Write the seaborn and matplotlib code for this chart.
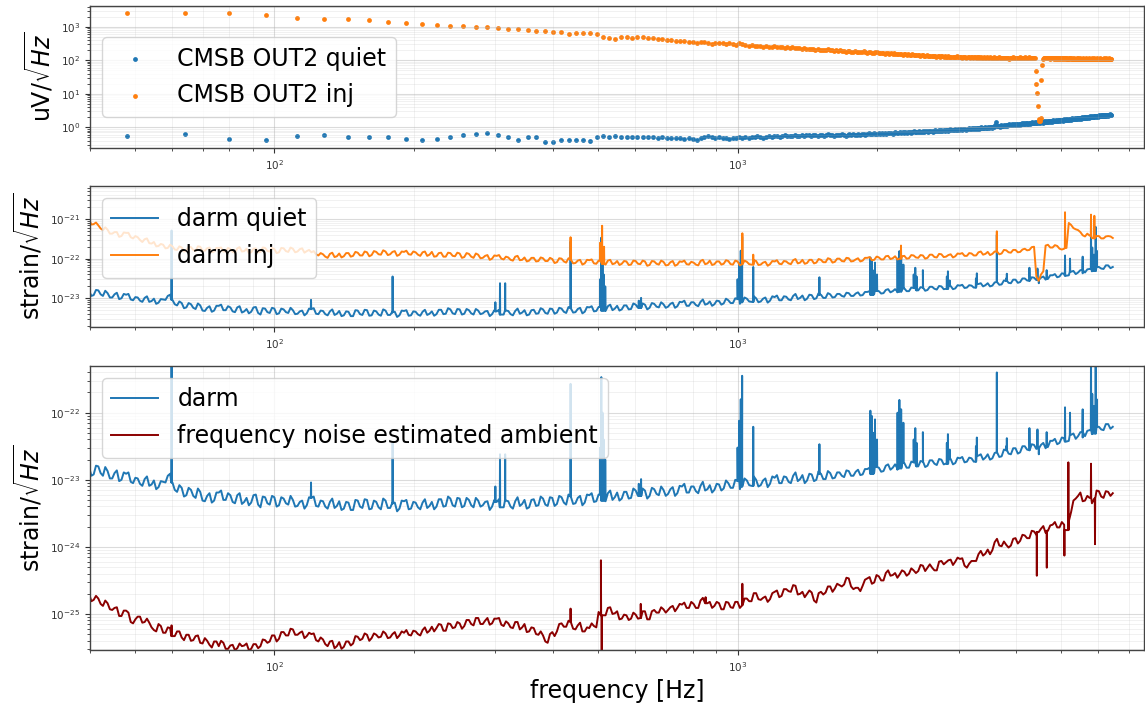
import numpy as np
import pandas as pd
import matplotlib
matplotlib.use("Agg")
import matplotlib.pyplot as plt
import seaborn as sns

# ---------------- data ----------------
# Top panel: CMSB OUT2 spectra, 16 Hz bins starting at 48 Hz, log10(uV/rtHz)*100
cmsb_f0 = 48
cmsb_df = 16
cmsb_quiet = [
    -26, -20, -34, -38, -27, -24, -30, -30, -30, -34,
    -38, -34, -28, -23, -20, -18, -23, -30, -38, -28,
    -30, -43, -45, -38, -38, -38, -38, -41, -28, -26,
    -28, -26, -28, -28, -30, -28, -28, -30, -29, -31,
    -30, -32, -31, -33, -32, -34, -33, -36, -38, -33,
    -28, -26, -29, -31, -30, -33, -32, -35, -31, -33,
    -30, -33, -29, -31, -28, -30, -27, -29, -31, -28,
    -26, -29, -27, -25, -28, -26, -24, -27, -25, -26,
    -24, -27, -25, -23, -26, -24, -22, -25, -23, -24,
    -25, -22, -24, -26, -23, -21, -24, -22, -25, -23,
    -22, -24, -21, -23, -25, -22, -20, -23, -21, -24,
    -22, -20, -23, -21, -19, -22, -20, -18, -21, -19,
    -18, -21, -19, -17, -20, -18, -21, -17, -19, -16,
    -18, -16, -19, -17, -15, -18, -16, -14, -17, -15,
    -16, -14, -17, -15, -13, -16, -14, -12, -15, -13,
    -14, -12, -15, -13, -11, -14, -12, -10, -13, -11,
    -12, -10, -13, -11, -9, -12, -10, -8, -11, -9,
    -10, -8, -11, -9, -7, -10, -8, -6, -9, -7,
    -8, -6, -9, -7, -5, -8, -6, -4, -7, -5,
    -6, -4, -7, -5, -3, -6, -4, -2, -5, -3,
    -4, -2, -5, -3, -1, -4, -2, 0, -3, -1,
    -2, 0, -3, -1, 1, -2, 0, 2, -1, 1,
    0, 2, 6, 17, 5, 3, 5, 2, 4, 6,
    3, 5, 7, 4, 6, 8, 5, 7, 9, 6,
    8, 6, 9, 7, 10, 8, 6, 9, 11, 8,
    10, 8, 11, 9, 12, 10, 13, 11, 9, 12,
    11, 13, 10, 12, 14, 11, 13, 15, 12, 14,
    13, 15, 12, 14, 16, 13, 15, 17, 14, 16,
    15, 17, 14, 16, 18, 15, 17, 19, 16, 18,
    17, 19, 16, 18, 20, 17, 19, 21, 18, 20,
    19, 21, 18, 20, 22, 19, 21, 23, 20, 22,
    21, 23, 20, 22, 24, 21, 23, 25, 22, 24,
    23, 25, 22, 24, 26, 23, 25, 27, 24, 26,
    25, 27, 24, 26, 28, 25, 27, 29, 26, 28,
    27, 29, 26, 28, 30, 27, 29, 31, 28, 30,
    29, 31, 28, 30, 32, 29, 31, 33, 30, 32,
    31, 33, 30, 32, 34, 31, 33, 35, 32, 34,
    33, 35, 32, 34, 36, 33, 35, 37, 34, 36,
    34, 36, 33, 35, 37, 34, 36, 38, 35, 37,
    36, 38, 35, 37, 39, 36, 38, 37,
]
cmsb_inj = [
    340, 340, 340, 334, 325, 322, 322, 319, 315, 312,
    308, 305, 302, 302, 298, 298, 295, 294, 292, 291,
    288, 287, 285, 283, 279, 280, 280, 280, 277, 270,
    266, 263, 269, 270, 267, 270, 268, 266, 265, 264,
    262, 260, 259, 257, 256, 256, 254, 253, 251, 253,
    254, 251, 249, 250, 252, 250, 248, 251, 249, 246,
    250, 247, 245, 243, 244, 242, 243, 241, 240, 242,
    240, 239, 241, 238, 240, 239, 237, 238, 236, 238,
    236, 235, 237, 234, 235, 233, 234, 232, 233, 231,
    232, 230, 231, 229, 231, 232, 229, 230, 228, 229,
    228, 229, 227, 228, 226, 227, 228, 225, 226, 227,
    225, 226, 224, 225, 227, 224, 223, 225, 224, 222,
    223, 226, 224, 222, 221, 223, 222, 220, 221, 222,
    220, 221, 219, 221, 220, 218, 219, 220, 218, 217,
    219, 218, 216, 218, 217, 216, 218, 215, 216, 217,
    215, 216, 214, 216, 215, 213, 214, 215, 213, 214,
    213, 214, 212, 214, 213, 211, 213, 212, 211, 213,
    212, 210, 212, 211, 210, 212, 211, 209, 211, 210,
    211, 209, 210, 212, 209, 210, 211, 209, 208, 210,
    209, 210, 208, 209, 211, 208, 209, 210, 208, 209,
    210, 208, 209, 207, 209, 210, 208, 209, 207, 208,
    209, 207, 208, 210, 208, 207, 209, 208, 206, 208,
    207, 209, 208, 206, 208, 207, 209, 207, 206, 208,
    207, 208, 206, 208, 207, 206, 208, 207, 205, 207,
    208, 206, 207, 209, 207, 206, 208, 207, 206, 208,
    207, 209, 206, 208, 207, 206, 208, 207, 209, 207,
    208, 206, 207, 209, 207, 208, 206, 207, 208, 206,
    207, 206, 168, 130, 103, 63, 25, 18, 20, 28,
    141, 186, 204, 206, 207, 206, 208, 207, 206, 207,
    208, 206, 207, 205, 207, 208, 206, 207, 205, 206,
    207, 205, 206, 208, 206, 205, 207, 206, 205, 207,
    206, 204, 206, 207, 205, 206, 204, 206, 205, 207,
    205, 206, 204, 206, 207, 205, 204, 206, 205, 204,
    206, 205, 203, 205, 206, 204, 205, 206, 204, 205,
    206, 204, 205, 203, 205, 206, 204, 205, 203, 204,
    205, 206, 204, 205, 203, 204, 206, 205, 203, 205,
    204, 206, 205, 203, 204, 206, 205, 204, 203, 205,
    206, 204, 205, 203, 205, 204, 206, 204, 203, 205,
    204, 203, 205, 206, 204, 203, 205, 204, 206, 204,
    203, 205, 204, 206, 204, 203, 205, 204,
]

# Strain spectra: values at log10(f) = 1.60 + 0.01*i  (main) and
# at log10(f) = 1.605 + 0.01*i (half-step "mid" samples); log10(strain/rtHz)*100
grid_logf0 = 1.60
grid_dlogf = 0.01
darm_quiet = [
    -2281, -2292, -2280, -2294, -2287, -2298, -2286, -2300, -2291, -2303,
    -2297, -2306, -2299, -2309, -2301, -2311, -2303, -2294, -2304, -2318,
    -2312, -2323, -2315, -2327, -2318, -2332, -2320, -2331, -2319, -2330,
    -2320, -2333, -2323, -2336, -2327, -2334, -2322, -2341, -2326, -2337,
    -2326, -2338, -2328, -2337, -2330, -2339, -2331, -2338, -2327, -2339,
    -2331, -2340, -2333, -2342, -2332, -2343, -2334, -2345, -2331, -2342,
    -2330, -2343, -2333, -2344, -2331, -2342, -2334, -2343, -2332, -2344,
    -2333, -2341, -2334, -2342, -2333, -2340, -2329, -2339, -2328, -2340,
    -2328, -2339, -2330, -2341, -2331, -2338, -2332, -2340, -2333, -2341,
    -2331, -2340, -2332, -2339, -2330, -2341, -2329, -2338, -2328, -2339,
    -2327, -2336, -2326, -2337, -2325, -2335, -2324, -2334, -2323, -2333,
    -2322, -2331, -2320, -2330, -2319, -2328, -2318, -2327, -2316, -2324,
    -2316, -2324, -2314, -2323, -2315, -2321, -2311, -2320, -2310, -2319,
    -2310, -2317, -2309, -2316, -2308, -2315, -2307, -2313, -2305, -2312,
    -2302, -2310, -2301, -2309, -2300, -2308, -2298, -2306, -2297, -2305,
    -2295, -2303, -2294, -2302, -2293, -2301, -2292, -2300, -2291, -2299,
    -2290, -2297, -2289, -2296, -2287, -2294, -2285, -2292, -2284, -2291,
    -2281, -2288, -2279, -2285, -2277, -2283, -2275, -2282, -2274, -2280,
    -2273, -2279, -2271, -2278, -2270, -2276, -2269, -2275, -2268, -2274,
    -2267, -2273, -2264, -2270, -2262, -2268, -2259, -2265, -2256, -2262,
    -2253, -2259, -2250, -2256, -2248, -2253, -2245, -2251, -2242, -2247,
    -2237, -2243, -2233, -2239, -2229, -2235, -2226, -2231, -2221, -2226,
    -2217, -2221,
]
darm_quiet_mid = [
    -2294, -2279, -2290, -2281, -2298, -2290, -2302, -2289, -2289, -2305,
    -2298, -2309, -2295, -2307, -2314, -2302, -2304, -2291, -2315, -2308,
    -2325, -2312, -2324, -2313, -2331, -2324, -2334, -2319, -2316, -2330,
    -2323, -2335, -2320, -2333, -2338, -2323, -2337, -2325, -2335, -2324,
    -2340, -2326, -2335, -2324, -2340, -2333, -2343, -2326, -2325, -2340,
    -2332, -2343, -2328, -2339, -2345, -2333, -2345, -2330, -2340, -2329,
    -2344, -2331, -2341, -2328, -2342, -2336, -2347, -2331, -2330, -2343,
    -2334, -2344, -2329, -2339, -2344, -2329, -2340, -2325, -2338, -2327,
    -2341, -2327, -2338, -2327, -2340, -2333, -2345, -2330, -2329, -2341,
    -2332, -2343, -2326, -2336, -2343, -2330, -2339, -2325, -2337, -2326,
    -2339, -2324, -2334, -2322, -2336, -2327, -2338, -2322, -2320, -2332,
    -2323, -2332, -2316, -2326, -2331, -2318, -2328, -2313, -2324, -2313,
    -2328, -2312, -2321, -2310, -2324, -2314, -2324, -2309, -2306, -2319,
    -2310, -2320, -2303, -2314, -2319, -2306, -2316, -2301, -2312, -2300,
    -2314, -2298, -2308, -2295, -2310, -2301, -2311, -2295, -2293, -2305,
    -2296, -2305, -2289, -2299, -2305, -2291, -2302, -2287, -2299, -2287,
    -2298, -2289, -2294, -2286, -2294, -2288, -2293, -2284, -2282, -2289,
    -2282, -2287, -2277, -2282, -2285, -2276, -2282, -2273, -2279, -2272,
    -2281, -2271, -2276, -2269, -2277, -2271, -2277, -2267, -2266, -2273,
    -2268, -2272, -2262, -2267, -2270, -2260, -2266, -2255, -2261, -2253,
    -2261, -2250, -2255, -2247, -2254, -2248, -2253, -2242, -2239, -2245,
    -2238, -2242, -2231, -2235, -2237, -2227, -2232, -2221, -2225, -2217,
    -2224,
]
darm_inj = [
    -2102, -2113, -2116, -2128, -2127, -2137, -2133, -2143, -2135, -2146,
    -2143, -2153, -2151, -2161, -2158, -2168, -2165, -2173, -2169, -2178,
    -2172, -2180, -2171, -2181, -2170, -2180, -2172, -2182, -2173, -2182,
    -2173, -2183, -2174, -2182, -2175, -2184, -2174, -2183, -2173, -2182,
    -2176, -2184, -2174, -2183, -2175, -2182, -2174, -2181, -2184, -2189,
    -2186, -2195, -2188, -2196, -2187, -2194, -2186, -2193, -2185, -2192,
    -2184, -2191, -2183, -2190, -2182, -2189, -2181, -2190, -2183, -2189,
    -2182, -2190, -2184, -2193, -2183, -2194, -2185, -2195, -2186, -2194,
    -2187, -2196, -2188, -2198, -2190, -2198, -2191, -2200, -2193, -2200,
    -2195, -2203, -2195, -2204, -2197, -2205, -2198, -2206, -2199, -2206,
    -2201, -2209, -2200, -2210, -2202, -2211, -2203, -2212, -2204, -2212,
    -2205, -2213, -2205, -2214, -2206, -2213, -2207, -2215, -2206, -2214,
    -2207, -2216, -2207, -2215, -2208, -2216, -2206, -2215, -2208, -2214,
    -2208, -2215, -2206, -2214, -2205, -2214, -2207, -2213, -2206, -2215,
    -2207, -2214, -2208, -2215, -2206, -2215, -2208, -2214, -2207, -2213,
    -2206, -2212, -2204, -2212, -2203, -2211, -2203, -2210, -2203, -2209,
    -2201, -2208, -2200, -2207, -2199, -2206, -2199, -2205, -2198, -2204,
    -2195, -2202, -2194, -2201, -2194, -2200, -2193, -2199, -2192, -2198,
    -2192, -2198, -2190, -2197, -2189, -2195, -2189, -2194, -2188, -2193,
    -2186, -2192, -2184, -2190, -2183, -2188, -2182, -2187, -2179, -2185,
    -2178, -2183, -2175, -2178, -2170, -2256, -2232, -2165, -2172, -2168,
    -2177, -2173, -2115, -2126, -2133, -2144, -2142, -2149, -2143, -2149,
    -2143, -2148,
]
darm_inj_mid = [
    -2114, -2109, -2124, -2121, -2137, -2133, -2145, -2134, -2135, -2149,
    -2146, -2158, -2149, -2162, -2169, -2163, -2174, -2165, -2177, -2169,
    -2182, -2170, -2178, -2169, -2180, -2174, -2184, -2173, -2172, -2182,
    -2176, -2185, -2171, -2181, -2186, -2175, -2184, -2172, -2181, -2173,
    -2186, -2173, -2181, -2172, -2184, -2176, -2185, -2178, -2181, -2192,
    -2189, -2198, -2185, -2194, -2197, -2186, -2195, -2183, -2192, -2182,
    -2194, -2181, -2189, -2179, -2191, -2183, -2193, -2182, -2180, -2190,
    -2184, -2193, -2182, -2190, -2195, -2186, -2195, -2185, -2193, -2185,
    -2198, -2186, -2195, -2187, -2199, -2193, -2203, -2192, -2191, -2202,
    -2197, -2205, -2193, -2203, -2207, -2198, -2207, -2197, -2206, -2198,
    -2211, -2199, -2207, -2199, -2212, -2205, -2215, -2203, -2202, -2213,
    -2207, -2215, -2203, -2212, -2216, -2206, -2216, -2205, -2213, -2205,
    -2218, -2206, -2213, -2205, -2217, -2209, -2218, -2207, -2205, -2215,
    -2210, -2217, -2203, -2212, -2216, -2207, -2215, -2204, -2214, -2205,
    -2217, -2205, -2214, -2204, -2216, -2210, -2218, -2206, -2204, -2214,
    -2207, -2214, -2201, -2210, -2213, -2203, -2212, -2201, -2209, -2199,
    -2210, -2200, -2206, -2198, -2207, -2202, -2207, -2198, -2196, -2203,
    -2197, -2202, -2193, -2199, -2202, -2194, -2200, -2191, -2197, -2191,
    -2200, -2190, -2196, -2188, -2196, -2191, -2197, -2187, -2186, -2193,
    -2187, -2192, -2182, -2188, -2191, -2182, -2189, -2178, -2184, -2178,
    -2184, -2177, -2179, -2171, -2245, -2240, -2167, -2172, -2166, -2175,
    -2175, -2110, -2123, -2128, -2141, -2137, -2148, -2143, -2149, -2144,
    -2144,
]
freq_noise = [
    -2470, -2479, -2477, -2488, -2484, -2494, -2490, -2503, -2495, -2512,
    -2508, -2504, -2512, -2513, -2524, -2515, -2528, -2520, -2533, -2526,
    -2535, -2531, -2540, -2533, -2543, -2536, -2546, -2541, -2548, -2543,
    -2552, -2546, -2551, -2548, -2544, -2552, -2545, -2548, -2539, -2541,
    -2532, -2537, -2527, -2532, -2523, -2531, -2526, -2533, -2530, -2539,
    -2535, -2545, -2541, -2551, -2542, -2549, -2541, -2544, -2534, -2537,
    -2531, -2536, -2531, -2534, -2529, -2535, -2527, -2532, -2528, -2531,
    -2525, -2530, -2524, -2528, -2519, -2521, -2516, -2525, -2515, -2520,
    -2514, -2518, -2509, -2517, -2506, -2515, -2506, -2514, -2507, -2516,
    -2511, -2520, -2512, -2523, -2515, -2526, -2521, -2531, -2532, -2543,
    -2527, -2526, -2514, -2519, -2512, -2523, -2513, -2526, -2521, -2518,
    -2497, -2502, -2491, -2500, -2496, -2507, -2502, -2507, -2501, -2506,
    -2496, -2508, -2494, -2498, -2493, -2494, -2488, -2491, -2486, -2491,
    -2482, -2491, -2480, -2484, -2482, -2488, -2484, -2493, -2483, -2491,
    -2482, -2487, -2477, -2481, -2469, -2479, -2474, -2478, -2467, -2475,
    -2463, -2466, -2457, -2471, -2467, -2470, -2468, -2483, -2467, -2468,
    -2459, -2462, -2457, -2456, -2447, -2463, -2461, -2458, -2447, -2455,
    -2442, -2450, -2439, -2443, -2439, -2441, -2437, -2440, -2435, -2436,
    -2428, -2431, -2431, -2435, -2421, -2423, -2419, -2422, -2418, -2428,
    -2425, -2421, -2411, -2413, -2404, -2405, -2388, -2399, -2397, -2398,
    -2387, -2391, -2383, -2387, -2377, -2378, -2369, -2376, -2367, -2371,
    -2363, -2375, -2348, -2328, -2319, -2331, -2327, -2328, -2317, -2327,
    -2318, -2320,
]
freq_noise_mid = [
    -2481, -2473, -2485, -2480, -2493, -2491, -2503, -2495, -2498, -2514,
    -2504, -2513, -2507, -2520, -2526, -2518, -2528, -2521, -2533, -2526,
    -2539, -2531, -2539, -2532, -2544, -2540, -2550, -2541, -2540, -2552,
    -2547, -2554, -2544, -2547, -2554, -2545, -2551, -2538, -2543, -2532,
    -2541, -2527, -2532, -2522, -2531, -2528, -2536, -2528, -2529, -2541,
    -2538, -2548, -2540, -2548, -2552, -2541, -2547, -2533, -2539, -2529,
    -2540, -2529, -2535, -2526, -2536, -2530, -2536, -2526, -2524, -2532,
    -2526, -2532, -2520, -2525, -2526, -2515, -2525, -2514, -2521, -2512,
    -2522, -2509, -2515, -2506, -2515, -2510, -2516, -2507, -2506, -2518,
    -2514, -2521, -2512, -2520, -2527, -2520, -2530, -2526, -2541, -2530,
    -2533, -2515, -2519, -2510, -2522, -2517, -2526, -2520, -2514, -2520,
    -2498, -2502, -2490, -2499, -2508, -2501, -2509, -2498, -2507, -2496,
    -2508, -2496, -2498, -2490, -2498, -2490, -2496, -2485, -2483, -2491,
    -2485, -2491, -2476, -2484, -2491, -2482, -2493, -2482, -2490, -2482,
    -2491, -2477, -2481, -2469, -2478, -2476, -2482, -2469, -2465, -2473,
    -2463, -2467, -2458, -2470, -2475, -2465, -2480, -2469, -2471, -2459,
    -2467, -2455, -2459, -2446, -2459, -2461, -2466, -2449, -2445, -2453,
    -2444, -2450, -2435, -2442, -2446, -2435, -2443, -2432, -2439, -2427,
    -2436, -2426, -2435, -2422, -2426, -2420, -2427, -2416, -2417, -2431,
    -2421, -2421, -2406, -2410, -2411, -2393, -2398, -2392, -2401, -2388,
    -2395, -2382, -2387, -2376, -2382, -2373, -2379, -2368, -2363, -2371,
    -2367, -2362, -2331, -2324, -2332, -2324, -2335, -2316, -2325, -2317,
    -2324,
]

# narrow lines (frequency in Hz, tip value log10*100)
quiet_line_f = [60, 120, 180, 300, 307, 315, 436, 505, 508, 511, 514, 518,
                612, 619, 1000, 1008, 1016, 1023, 1081, 1502,
                1935, 1950, 1965, 1980, 2000, 2215, 2235, 2255, 2280,
                2400, 2419, 2435, 2512, 2830, 2845, 2870, 3270, 3285,
                3628, 3800, 3813, 4266, 4440, 4470, 4648, 5092, 5220,
                5559, 5794, 5830, 5880, 5930, 5960]
quiet_line_v = [-2129, -2304, -2245, -2310, -2262, -2262, -2157, -2252, -2147, -2200, -2240, -2270,
                -2306, -2299, -2252, -2212, -2180, -2145, -2221, -2247,
                -2197, -2205, -2230, -2210, -2240, -2200, -2181, -2195, -2215,
                -2240, -2223, -2245, -2229, -2245, -2232, -2255, -2250, -2237,
                -2140, -2250, -2238, -2223, -2225, -2262, -2229, -2192, -2200,
                -2195, -2100, -2172, -2190, -2120, -2180]
inj_line_f = [436, 505, 510, 515, 1024, 1081, 2000, 2253, 3628, 5092, 5794, 5891]
inj_line_v = [-2146, -2160, -2117, -2170, -2136, -2190, -2195, -2167, -2131, -2083, -2089, -2092]
noise_line_f = [60, 436, 507, 509, 618, 853, 1024, 4426, 4651, 5076, 5177, 5794, 5910]
noise_line_v = [-2517, -2492, -2420, -2575, -2485, -2475, -2455, -2443, -2431, -2413, -2274, -2276, -2396]

# axis tick decades shown in each panel
top_decades = [0, 1, 2, 3]
mid_decades = [-23, -22, -21]
bot_decades = [-25, -24, -23, -22]

# ---------------- helpers ----------------
def dots(vals):
    v = np.asarray(vals, float) / 100.0
    f = cmsb_f0 + cmsb_df * np.arange(len(v))
    return pd.DataFrame({"f": f, "v": 10 ** v})


def spectrum(vals, mids, line_f, line_v):
    v = np.asarray(vals, float) / 100.0
    vm = np.asarray(mids, float) / 100.0
    lf = grid_logf0 + grid_dlogf * np.arange(len(v))
    lfm = grid_logf0 + grid_dlogf * (np.arange(len(vm)) + 0.5)
    sf = np.asarray(line_f, float)
    sv = np.asarray(line_v, float) / 100.0
    idx = np.abs(lf[None, :] - np.log10(sf)[:, None]).argmin(axis=1)
    base = v[idx]
    ff = np.concatenate([10 ** lf, 10 ** lfm, sf * 0.999, sf, sf * 1.001])
    vv = np.concatenate([v, vm, base, sv, base])
    o = np.argsort(ff, kind="stable")
    return pd.DataFrame({"f": ff[o], "v": 10 ** vv[o]})


BLUE = "#1f77b4"
ORANGE = "#ff7f0e"
DARKRED = "#8b0000"

plt.rcParams.update({
    "font.family": ["DejaVu Sans"],
    "axes.edgecolor": "#444444",
    "axes.linewidth": 1.0,
    "xtick.color": "#333333",
    "ytick.color": "#333333",
    "xtick.labelsize": 7.5,
    "ytick.labelsize": 7.5,
})

fig = plt.figure(figsize=(11.45, 7.05), dpi=100)
W, H = 1145.0, 705.0
left, right = 90 / W, 1144 / W


def make_ax(top_px, bot_px):
    return fig.add_axes([left, 1 - bot_px / H, right - left, (bot_px - top_px) / H])


ax1 = make_ax(6, 148)
ax2 = make_ax(186, 327)
ax3 = make_ax(366, 650)

for ax in (ax1, ax2, ax3):
    ax.set_xscale("log")
    ax.set_yscale("log")

LW = 1.4
FS = 17

# top panel
sns.scatterplot(data=dots(cmsb_quiet), x="f", y="v", ax=ax1, color=BLUE, s=12,
                linewidth=0, label="CMSB OUT2 quiet")
sns.scatterplot(data=dots(cmsb_inj), x="f", y="v", ax=ax1, color=ORANGE, s=12,
                linewidth=0, label="CMSB OUT2 inj")
ax1.set_ylim(0.241, 4140)
ax1.set_ylabel(r"uV/$\sqrt{Hz}$", fontsize=FS)

# middle panel
quiet_df = spectrum(darm_quiet, darm_quiet_mid, quiet_line_f, quiet_line_v)
sns.lineplot(data=quiet_df, x="f", y="v", ax=ax2, color=BLUE, lw=LW,
             estimator=None, sort=False, label="darm quiet")
sns.lineplot(data=spectrum(darm_inj, darm_inj_mid, inj_line_f, inj_line_v), x="f", y="v",
             ax=ax2, color=ORANGE, lw=LW, estimator=None, sort=False, label="darm inj")
ax2.set_ylim(10 ** -23.724, 10 ** -20.168)
ax2.set_ylabel(r"strain/$\sqrt{Hz}$", fontsize=FS)

# bottom panel
sns.lineplot(data=quiet_df, x="f", y="v", ax=ax3, color=BLUE, lw=LW,
             estimator=None, sort=False, label="darm")
sns.lineplot(data=spectrum(freq_noise, freq_noise_mid, noise_line_f, noise_line_v),
             x="f", y="v", ax=ax3, color=DARKRED, lw=LW, estimator=None, sort=False,
             label="frequency noise estimated ambient")
ax3.set_ylim(10 ** -25.537, 10 ** -21.304)
ax3.set_ylabel(r"strain/$\sqrt{Hz}$", fontsize=FS)
ax3.set_xlabel("frequency [Hz]", fontsize=FS)

for ax, decs in ((ax1, top_decades), (ax2, mid_decades), (ax3, bot_decades)):
    ax.set_xlim(40, 7540)
    ax.set_xticks([100, 1000])
    ax.set_yticks([10.0 ** d for d in decs])
    if ax is not ax3:
        ax.set_xlabel("")
    ax.grid(True, which="major", color="#b0b0b0", alpha=0.45, lw=0.8)
    ax.grid(True, which="minor", color="#b0b0b0", alpha=0.2, lw=0.6)
    ax.tick_params(which="major", length=3.5, width=0.8)
    ax.tick_params(which="minor", length=2, width=0.6, labelleft=False, labelbottom=False)

ax1.legend(loc="center left", fontsize=FS, labelspacing=0.55)
ax2.legend(loc="upper left", fontsize=FS, labelspacing=0.55)
ax3.legend(loc="upper left", fontsize=FS, labelspacing=0.55)

fig.savefig("out.png", dpi=100)
